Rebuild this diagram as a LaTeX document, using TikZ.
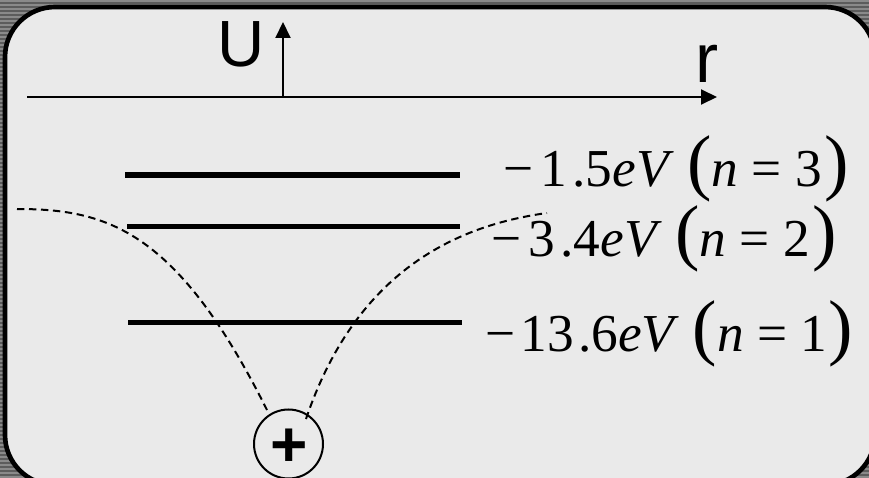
\documentclass[tikz,border=0pt]{standalone}
\usepackage{fontspec}
\setmainfont{Liberation Serif}
\newfontfamily\axisfont{Liberation Sans}
\usetikzlibrary{arrows.meta}
\definecolor{panel}{HTML}{EAEAEA}
\definecolor{bgdark}{HTML}{5C5C5C}
\definecolor{bglight}{HTML}{8A8A8A}
\newcommand\bigpar[1]{{\fontsize{55pt}{55pt}\selectfont #1}}
\begin{document}
\begin{tikzpicture}[x=0.75pt,y=-0.75pt,
  levelline/.style={line width=4.1pt},
  axisline/.style={line width=1.5pt,-{Triangle[length=12pt,width=11.25pt]}},
  pot/.style={dash pattern=on 5.5pt off 3.5pt, line width=1.5pt},
  elab/.style={anchor=base west, inner sep=0pt, font=\fontsize{40pt}{40pt}\selectfont},
  axlab/.style={inner sep=0pt},
  ]
\useasboundingbox (0,0) rectangle (869,478);
% striped backdrop
\fill[bgdark] (0,0) rectangle (869,478);
\foreach \yy in {0,4,...,476} \fill[bglight] (0,\yy) rectangle (869,\yy+2);
% panel
\draw[line width=3.5pt, fill=panel, rounded corners=37.5pt] (5,7) rectangle (875,485);
% axes
\coordinate (ax0) at (27,97);
\coordinate (ax1) at (717,97);
\draw[axisline] (ax0) -- (ax1);
\coordinate (uy0) at (283,97);
\coordinate (uy1) at (283,22);
\draw[axisline] (uy0) -- (uy1);
\node[axlab, font=\axisfont\fontsize{49pt}{49pt}\selectfont] (U) at (241,44) {U};
\node[axlab, font=\axisfont\fontsize{52pt}{52pt}\selectfont] (r) at (707,63.5) {r};
% energy levels
\coordinate (n3a) at (125,175); \coordinate (n3b) at (460,175);
\coordinate (n2a) at (127,226.5); \coordinate (n2b) at (460,226.5);
\coordinate (n1a) at (128,322.5); \coordinate (n1b) at (462,322.5);
\draw[levelline] (n3a) -- (n3b);
\draw[levelline] (n2a) -- (n2b);
\draw[levelline] (n1a) -- (n1b);
% labels
\node[elab] (e3) at (503,187) {−\kern5pt{}1\kern4.5pt{}.5\textit{eV} \bigpar{(}\textit{n} = 3\kern2pt{}\bigpar{)}};
\node[elab] (e2) at (491,256.5) {−\kern5pt{}3\kern4.5pt{}.4\textit{eV} \bigpar{(}\textit{n} = 2\kern2pt{}\bigpar{)}};
\node[elab] (e1) at (485,351.5) {−\kern4pt{}13\kern3pt{}.6\textit{eV} \bigpar{(}\textit{n} = 1\kern1pt{}\bigpar{)}};
% nucleus
\node[circle, draw, line width=1.5pt, minimum size=51.75pt, inner sep=0pt] (nuc) at (288.5,444) {};
\node[inner sep=0pt, font=\axisfont\bfseries\fontsize{48pt}{48pt}\selectfont] (plus) at (289,448) {+};
% potential curves
\coordinate (pL0) at (17,209);
\coordinate (pL1) at (267,410);
\draw[pot] (pL0) .. controls (107,209) and (177,230) .. (pL1);
\coordinate (pR0) at (306,419);
\coordinate (pR1) at (547,213);
\draw[pot] (pR0) .. controls (357,268) and (460,225) .. (pR1);
\end{tikzpicture}
\end{document}
